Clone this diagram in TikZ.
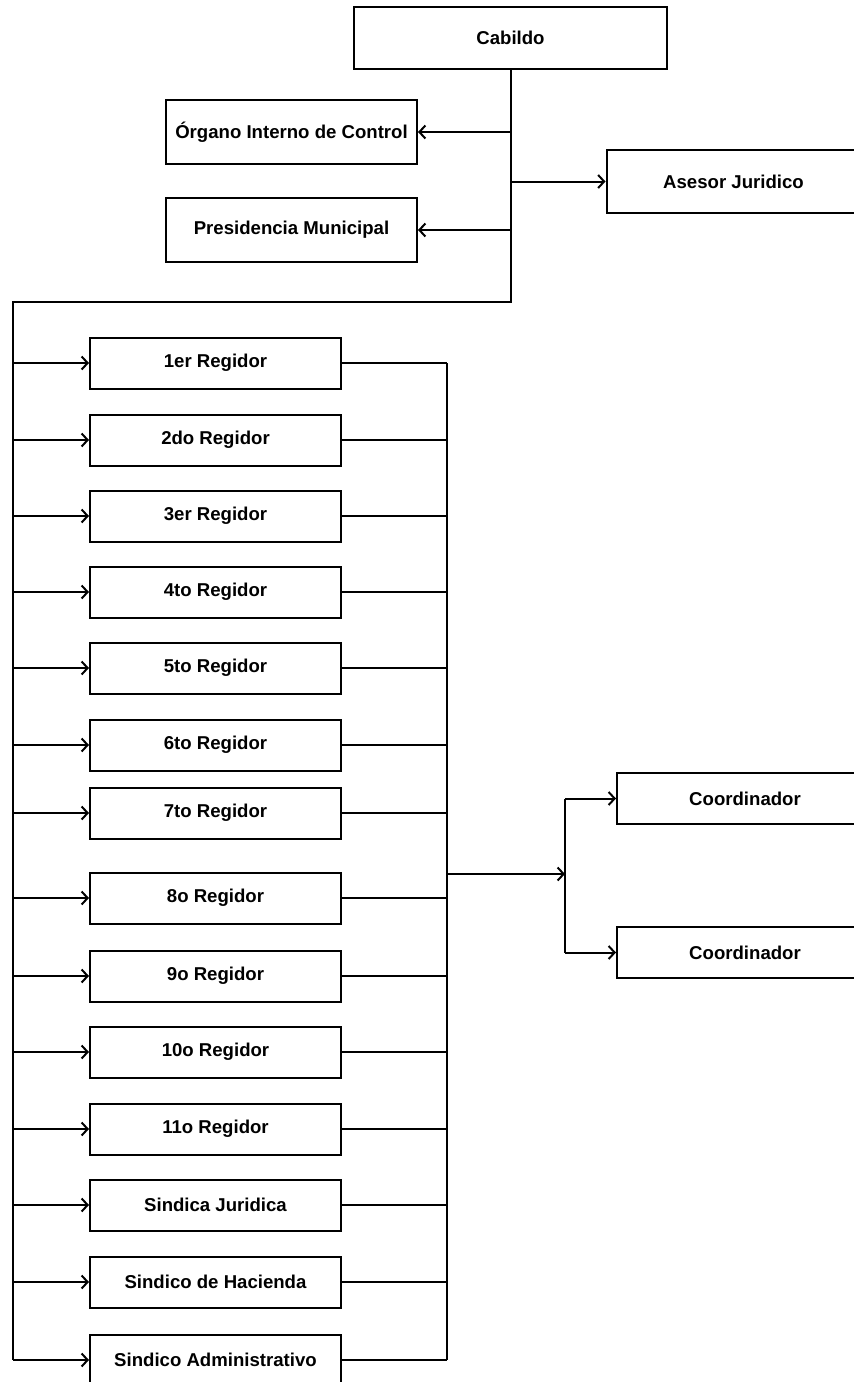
\documentclass[tikz,border=0pt]{standalone}
\usepackage{fontspec}
\setmainfont{Liberation Sans}
\usepackage{tikz}
\usetikzlibrary{arrows.meta}

\begin{document}
\begin{tikzpicture}[x=0.5pt,y=-0.5pt,line width=1pt,
  caja/.style={draw,line width=1pt,minimum width=125.5pt,minimum height=25.5pt,inner sep=1pt,font=\fontsize{9.3}{11}\selectfont\bfseries},
  flecha/.style={-{Straight Barb[length=3pt,width=6.5pt]}}]
\useasboundingbox (0,0) rectangle (854,1382);
\node[caja,minimum width=156.5pt,minimum height=31pt] (cab) at (510.5,38) {Cabildo};
\node[caja,minimum height=32pt] (org) at (291.5,132) {Órgano Interno de Control};
\node[caja,minimum height=32pt] (pres) at (291.5,230) {Presidencia Municipal};
\node[caja,minimum width=127pt,minimum height=31.5pt] (ase) at (733.5,181.5) {Asesor Juridico};
\draw[flecha] (cab.south |- org.east) -- (org.east);
\draw[flecha] (cab.south |- pres.east) -- (pres.east);
\draw[flecha] (cab.south |- ase.west) -- (ase.west);
% regidores y sindicos
\coordinate (izq) at (13,302);
\coordinate (der) at (447,363);
\foreach \n/\y/\t in {r1/363/1er Regidor,r2/440/2do Regidor,r3/516/3er Regidor,
  r4/592/4to Regidor,r5/668/5to Regidor,r6/745/6to Regidor,r7/813/7to Regidor,
  r8/898/8o Regidor,r9/976/9o Regidor,r10/1052/10o Regidor,r11/1129/11o Regidor,
  sj/1205/Sindica Juridica,sh/1282/Sindico de Hacienda,sa/1360/Sindico Administrativo}{
  \node[caja] (\n) at (215.5,\y) {\t};
  \draw[flecha] (\n.west -| izq) -- (\n.west);
  \draw (\n.east) -- (\n.east -| der);
}
\draw (cab.south) |- (izq) -- (izq |- sa.west);
\draw (der) -- (der |- sa.east);
% coordinadores
\node[caja,minimum width=128pt] (co1) at (745,798.5) {Coordinador};
\node[caja,minimum width=128pt] (co2) at (745,952.5) {Coordinador};
\coordinate (rama) at (565,874);
\draw[flecha] (der |- rama) -- (rama);
\draw (rama |- co1.west) -- (rama |- co2.west);
\draw[flecha] (rama |- co1.west) -- (co1.west);
\draw[flecha] (rama |- co2.west) -- (co2.west);
\end{tikzpicture}
\end{document}
